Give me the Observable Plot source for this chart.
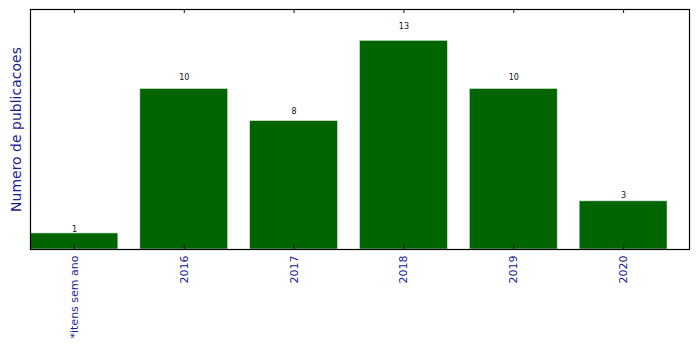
<!DOCTYPE html>
<html>
<head>
<meta charset="utf-8">
<script src="https://cdn.jsdelivr.net/npm/d3@7"></script>
<script src="https://cdn.jsdelivr.net/npm/@observablehq/plot@0.6"></script>
<style>
  html, body { margin: 0; padding: 0; background: #fff; }
  svg { display: block; }
</style>
</head>
<body>
<div id="chart"></div>
<script>
const categories = ["*itens sem ano", "2016", "2017", "2018", "2019", "2020"];
const counts = [1, 10, 8, 13, 10, 3];
const yLabel = "Numero de publicacoes";

const data = categories.map((c, i) => ({category: c, count: counts[i]}));
const frameH = 240;

const chart = Plot.plot({
  width: 699,
  height: 349,
  marginTop: 9,
  marginBottom: 100,
  marginLeft: 30,
  marginRight: 10,
  style: {fontFamily: "DejaVu Sans", background: "#fff"},
  x: {type: "band", domain: categories, paddingInner: 0.2, paddingOuter: 0.1, align: 0, round: false, label: null},
  y: {domain: [0, d3.max(counts) * 1.15], axis: null},
  marks: [
    Plot.barY(data, {x: "category", y: "count", fill: "#006400", stroke: "#dfe9df", strokeWidth: 0.6}),
    Plot.text(data, {x: "category", y: d => d.count * 1.05, text: d => String(d.count), lineAnchor: "bottom", dy: -1, fontSize: 8, fill: "#111"}),
    Plot.ruleX(categories, {x: d => d, insetTop: frameH - 4, stroke: "#111"}),
    Plot.ruleX(categories, {x: d => d, insetBottom: frameH - 4, stroke: "#111"}),
    Plot.axisX({anchor: "bottom", tickSize: 0, tickPadding: 6, tickRotate: -90, fontSize: 11, fill: "#1a1a96", label: null}),
    Plot.text([yLabel], {frameAnchor: "left", text: d => d, rotate: -90, dx: -14, textAnchor: "middle", fontSize: 14, fill: "#1a1a96"}),
    Plot.frame({stroke: "#000", strokeWidth: 1.2})
  ]
});
document.getElementById("chart").appendChild(chart);
</script>
</body>
</html>
